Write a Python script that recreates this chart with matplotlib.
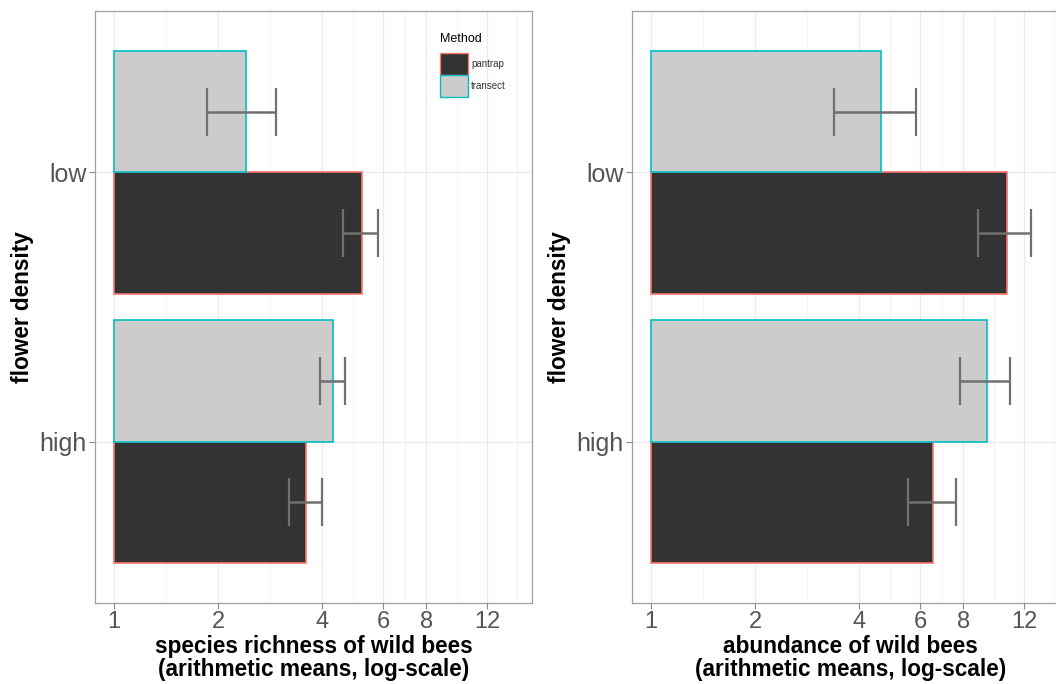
import numpy as np
import matplotlib.pyplot as plt
from matplotlib.patches import Patch
from matplotlib.ticker import NullFormatter

plt.rcParams['font.family'] = ['Liberation Sans', 'DejaVu Sans']

# data
density = ['high', 'low']
methods = ['pantrap', 'transect']

rich_pantrap = [3.6, 5.2]
rich_pantrap_lo = [3.2, 4.6]
rich_pantrap_hi = [4.0, 5.8]
rich_transect = [4.3, 2.4]
rich_transect_lo = [3.95, 1.86]
rich_transect_hi = [4.66, 2.94]

abund_pantrap = [6.55, 10.7]
abund_pantrap_lo = [5.55, 8.85]
abund_pantrap_hi = [7.64, 12.6]
abund_transect = [9.39, 4.63]
abund_transect_lo = [7.85, 3.39]
abund_transect_hi = [10.95, 5.85]

xticks = [1, 2, 4, 6, 8, 12]
xlabels = ['species richness of wild bees\n(arithmetic means, log-scale)',
           'abundance of wild bees\n(arithmetic means, log-scale)']

fill = {'pantrap': '#333333', 'transect': '#cccccc'}
edge = {'pantrap': '#f8766d', 'transect': '#00bfc4'}

fig = plt.figure(figsize=(10.56, 6.84), dpi=100)
ax1 = fig.add_axes([95/1056, 1-603/684, 437/1056, 592/684])
ax2 = fig.add_axes([632/1056, 1-603/684, 437/1056, 592/684])

panels = [
    (ax1, {'pantrap': (rich_pantrap, rich_pantrap_lo, rich_pantrap_hi),
           'transect': (rich_transect, rich_transect_lo, rich_transect_hi)}),
    (ax2, {'pantrap': (abund_pantrap, abund_pantrap_lo, abund_pantrap_hi),
           'transect': (abund_transect, abund_transect_lo, abund_transect_hi)}),
]

ypos = np.arange(1, len(density) + 1)
bw = 0.45
offs = {'pantrap': -bw/2, 'transect': bw/2}

for i, (ax, d) in enumerate(panels):
    ax.set_xscale('log')
    for m in methods:
        mean, lo, hi = [np.array(v) for v in d[m]]
        y = ypos + offs[m]
        ax.barh(y, mean - 1, left=1, height=bw, color=fill[m],
                edgecolor=edge[m], linewidth=1.2, zorder=2)
        ax.errorbar(mean, y, xerr=[mean - lo, hi - mean], fmt='none',
                    ecolor='#707070', elinewidth=1.8, capsize=17,
                    capthick=1.6, zorder=3)
    ax.set_xlim(0.88, 16.2)
    ax.set_ylim(0.4, 2.6)
    ax.set_xticks(xticks)
    ax.set_xticklabels([str(t) for t in xticks])
    minor = [np.sqrt(a*b) for a, b in zip(xticks[:-1], xticks[1:])]
    minor.append(12*np.sqrt(12/8))
    ax.set_xticks(minor, minor=True)
    ax.xaxis.set_minor_formatter(NullFormatter())
    ax.set_yticks(ypos)
    ax.set_yticklabels(density)
    ax.tick_params(axis='x', which='minor', length=0)
    ax.tick_params(axis='both', which='major', length=4, color='#888888',
                   labelcolor='#555555', width=0.8)
    ax.tick_params(axis='x', which='major', labelsize=17, pad=2)
    ax.tick_params(axis='y', which='major', labelsize=18, pad=2)
    ax.grid(True, which='major', color='#ebebeb', linewidth=1.0, zorder=0)
    ax.grid(True, which='minor', axis='x', color='#f2f2f2', linewidth=0.6, zorder=0)
    ax.set_axisbelow(True)
    for s in ax.spines.values():
        s.set_color('#a0a0a0')
        s.set_linewidth(0.9)
    ax.set_xlabel(xlabels[i], fontsize=16.3, fontweight='bold', labelpad=1,
                  linespacing=1.0)
    ax.set_ylabel('flower density', fontsize=16.3, fontweight='bold', labelpad=4)

handles = [Patch(facecolor=fill[m], edgecolor=edge[m], linewidth=1.0, label=m)
           for m in methods]
leg = ax1.legend(handles=handles, title='Method', loc='upper left',
                 bbox_to_anchor=(440/1056, 1-33/684),
                 bbox_transform=fig.transFigure, frameon=False,
                 fontsize=7, title_fontsize=9, handlelength=2.9,
                 handleheight=3.1, handletextpad=0.3, labelspacing=0.0,
                 borderaxespad=0, borderpad=0)
leg._legend_box.align = 'left'
leg._legend_box.sep = 6
for t in leg.get_texts():
    t.set_color('#333333')

fig.savefig('out.png', dpi=100)
